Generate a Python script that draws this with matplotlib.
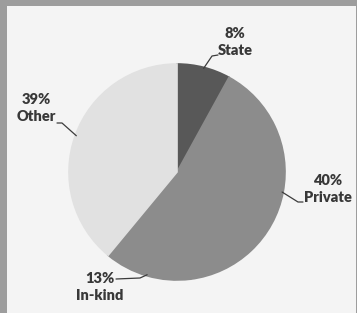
import numpy as np
import matplotlib.pyplot as plt
from matplotlib.patches import Rectangle

labels = ['State', 'Private', 'In-kind', 'Other']
shares = [8, 40, 13, 39]
colors = ['#585858', '#8c8c8c', '#8c8c8c', '#e1e1e1']

# layout (pixels, y from top): label centre, leader elbow, leader end
label_pos = [(235, 42), (328, 189), (100, 287), (36, 108)]
elbows = [(212, 56), (298, 202), (140, 278), (62, 123)]
ends = [(218, 55), (303, 202), (116, 279), (57, 123)]

W, H = 357, 313
fig = plt.figure(figsize=(W / 100, H / 100), dpi=100, facecolor='#9d9d9d')
fig.patches.append(Rectangle((7 / W, 0), (W - 8) / W, (H - 6) / H,
                             transform=fig.transFigure, facecolor='#f4f4f4',
                             edgecolor='none', zorder=-5))
ax = fig.add_axes([0, 0, 1, 1])
ax.set_zorder(2)
ax.patch.set_visible(False)

cx, cy, r = 177, H - 172, 108
wedges, _ = ax.pie(shares, colors=colors, startangle=90, counterclock=False,
                   center=(cx, cy), radius=r, frame=True,
                   wedgeprops=dict(linewidth=1.2))
# same-colour edges hide the antialiasing seam between Private and In-kind
for w, c in zip(wedges, colors):
    w.set_edgecolor(c)
ax.set_xlim(0, W)
ax.set_ylim(0, H)
ax.axis('off')

for w, lab, val, (tx, ty), (ex, ey), (lx, ly) in zip(wedges, labels, shares, label_pos, elbows, ends):
    ang = np.deg2rad((w.theta1 + w.theta2) / 2)
    px, py = cx + (r - 1) * np.cos(ang), cy + (r - 1) * np.sin(ang)
    ax.plot([px, ex, lx], [py, H - ey, H - ly], color='#3c3c3c', lw=0.9,
            solid_capstyle='round', solid_joinstyle='round')
    ax.text(tx, H - ty, f'{val}%\n{lab}', ha='center', va='center',
            fontsize=10.5, fontweight='heavy', family='Lato', color='#383838',
            linespacing=1.3)

fig.savefig('out.png', dpi=100, facecolor=fig.get_facecolor())
